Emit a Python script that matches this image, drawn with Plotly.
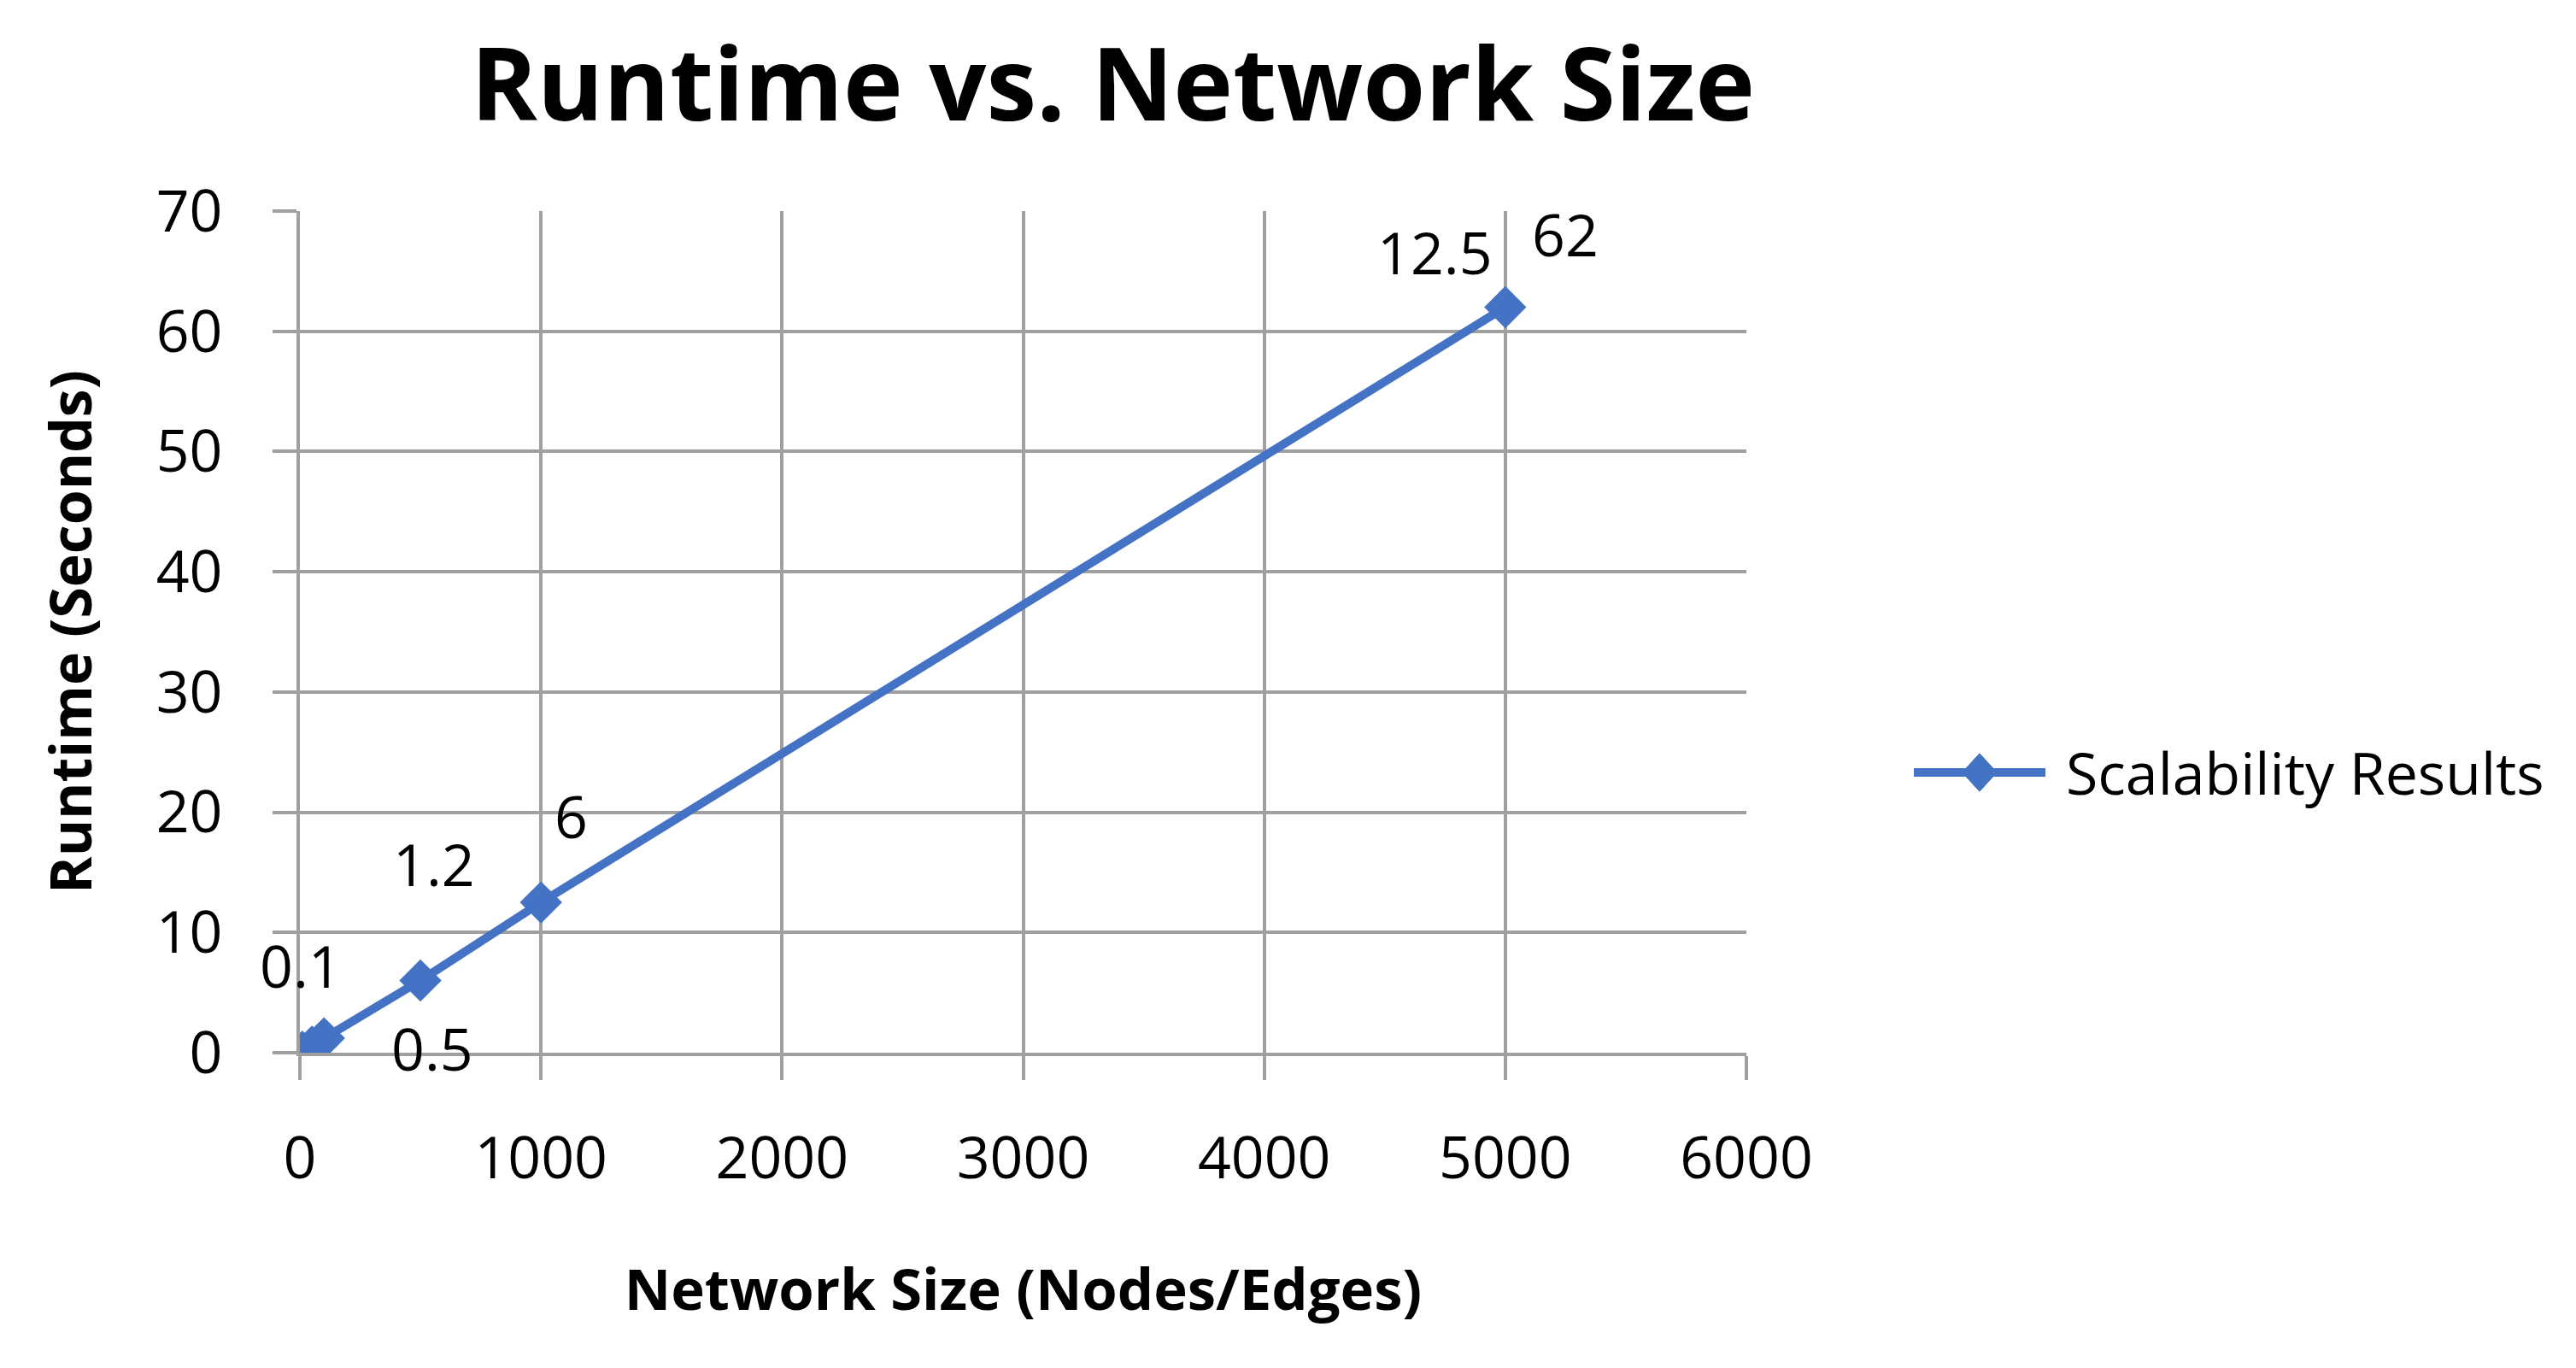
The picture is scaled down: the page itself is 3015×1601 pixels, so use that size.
import plotly.graph_objects as go

# ---- data ----
network_size = [10, 50, 100, 500, 1000, 5000]
runtime_sec = [0.1, 0.5, 1.2, 6, 12.5, 62]
value_labels = ["0.1", "0.5", "1.2", "6", "12.5", "62"]
x_ticks = [0, 1000, 2000, 3000, 4000, 5000, 6000]
y_ticks = [0, 10, 20, 30, 40, 50, 60, 70]
series_name = "Scalability Results"

# ---- styles ----
BLUE = "#4472C4"
GRID = "#a0a0a0"
FONT = "Open Sans"
# pixel offsets of the data labels relative to their points (as placed in the original)
label_dx = [-2, 141, 129, 176, 1046, 70]
label_dy = [101, -2, 205, 193, 762, 86]

fig = go.Figure()
fig.add_trace(go.Scatter(
    x=network_size, y=runtime_sec, mode="lines+markers", name=series_name,
    line=dict(color=BLUE, width=10),
    marker=dict(symbol="diamond", size=38, color=BLUE),
    showlegend=False,
))

for xv, yv, t, dx, dy in zip(network_size, runtime_sec, value_labels, label_dx, label_dy):
    fig.add_annotation(x=xv, y=yv, text=t, showarrow=False, xshift=dx, yshift=dy,
                       xanchor="center", yanchor="middle",
                       font=dict(family=FONT, size=68, color="#000000"))

# custom legend (long line with diamond, as in the original)
fig.add_shape(type="line", xref="paper", yref="paper", x0=1.1158, x1=1.2068, y0=0.333, y1=0.333,
              line=dict(color=BLUE, width=10))
fig.add_shape(type="path", xref="paper", yref="paper",
              path="M 1.1612 0.3555 L 1.1732 0.333 L 1.1612 0.3105 L 1.1492 0.333 Z",
              fillcolor=BLUE, line=dict(color=BLUE, width=1))
fig.add_annotation(xref="paper", yref="paper", x=1.2197, y=0.333, text=series_name,
                   showarrow=False, xanchor="left", yanchor="middle",
                   font=dict(family=FONT, size=68, color="#000000"))

axis_common = dict(
    showgrid=True, gridcolor=GRID, gridwidth=4,
    showline=True, linecolor=GRID, linewidth=4,
    ticks="outside", ticklen=28, tickwidth=4, tickcolor=GRID,
    tickfont=dict(family=FONT, size=68, color="#000000"),
    zeroline=False,
)

fig.update_layout(
    width=3015, height=1601,
    margin=dict(l=351, r=971, t=247, b=369),
    paper_bgcolor="white", plot_bgcolor="white",
    title=dict(text="<b>Runtime vs. Network Size</b>", xref="container", yref="container",
               x=0.432, y=0.938, xanchor="center", yanchor="middle",
               font=dict(family=FONT, size=118, color="#000000")),
    xaxis=dict(range=[0, 6000], tickvals=x_ticks, ticklabelstandoff=33,
               title=dict(text="<b>Network Size (Nodes/Edges)</b>", standoff=90,
                          font=dict(family=FONT, size=67, color="#000000")),
               **axis_common),
    yaxis=dict(range=[0, 70], tickvals=y_ticks, ticklabelstandoff=45,
               title=dict(text="<b>Runtime (Seconds)</b>", standoff=55,
                          font=dict(family=FONT, size=66, color="#000000")),
               **axis_common),
)

fig.write_html("out.html", config={"displayModeBar": False},
               post_script="document.body.style.margin='0';")
